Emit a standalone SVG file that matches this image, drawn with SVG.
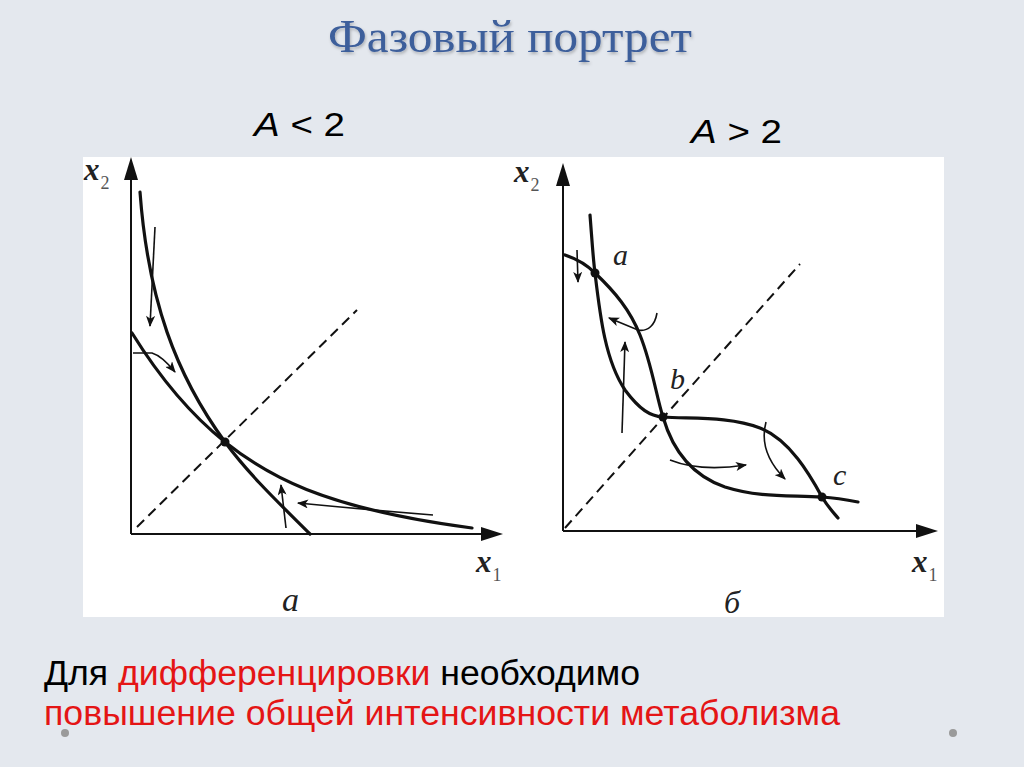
<svg xmlns="http://www.w3.org/2000/svg" width="1024" height="767" viewBox="0 0 1024 767">
<defs>
<style>
.axis{stroke:#111;stroke-width:2;fill:none}
.curve{stroke:#111;stroke-width:3.2;fill:none;stroke-linecap:round}
.dash{stroke:#111;stroke-width:2;fill:none;stroke-dasharray:10 6}
.traj{stroke:#111;stroke-width:1.6;fill:none;marker-end:url(#ah)}
.head{fill:#111}
.lbl{font-family:"Liberation Serif",serif;font-style:italic;fill:#222}
.xl{font-family:"Liberation Serif",serif;font-style:italic;font-weight:bold;fill:#222;font-size:31px}
.sub{font-family:"Liberation Serif",serif;font-style:normal;font-weight:normal;fill:#555;font-size:18px}
.cond{font-family:"Liberation Sans",Arial,sans-serif;font-size:33px;fill:#000}
.body{font-family:"Liberation Sans",Arial,sans-serif;font-size:35px}
.red{fill:#e41515}
.blk{fill:#000}
</style>
<marker id="ah" viewBox="0 0 10 8" refX="9" refY="4" markerWidth="12" markerHeight="9" markerUnits="userSpaceOnUse" orient="auto">
<path d="M0,0 L10,4 L0,8 L2.5,4 Z" fill="#111"/>
</marker>
<filter id="sh" x="-10%" y="-20%" width="120%" height="150%">
<feDropShadow dx="1" dy="2" stdDeviation="1.5" flood-color="#000" flood-opacity="0.25"/>
</filter>
</defs>
<rect x="0" y="0" width="1024" height="767" fill="#e4e8ee"/>
<text id="title" x="328" y="52" textLength="364" lengthAdjust="spacingAndGlyphs" font-family="'Liberation Serif',serif" font-size="46" fill="#3d5e9b" filter="url(#sh)">Фазовый портрет</text>
<text id="cond1" class="cond" x="254" y="136" textLength="91" lengthAdjust="spacingAndGlyphs"><tspan font-style="italic">A</tspan> &lt; 2</text>
<text id="cond2" class="cond" x="691" y="143" textLength="91" lengthAdjust="spacingAndGlyphs"><tspan font-style="italic">A</tspan> &gt; 2</text>
<rect id="panel" x="83" y="157" width="861" height="460" fill="#fff"/>

<g id="graph-a">
<g id="axes-a">
<line class="axis" x1="131" y1="534" x2="131" y2="176"/>
<polygon class="head" points="131,157 124,180 138,180"/>
<line class="axis" x1="131" y1="534" x2="484" y2="534"/>
<polygon class="head" points="503,534 481,527 481,541"/>
<text class="xl" x="84" y="180">x<tspan class="sub" dx="1" dy="9">2</tspan></text>
<text class="xl" x="476" y="572">x<tspan class="sub" dx="1" dy="9">1</tspan></text>
<text class="lbl" x="282" y="611" font-size="34">a</text>
</g>
<g id="curves-a">
<line class="dash" x1="137" y1="527" x2="357" y2="310"/>
<path class="curve" d="M140,192 C148,300 176,375 225,442 C250,476 282,506 310,534"/>
<path class="curve" d="M132,333 C155,370 185,410 225,442 C265,474 320,508 472,528"/>
<circle cx="225" cy="442" r="4.5" fill="#111"/>
</g>
<g id="traj-a">
<path class="traj" d="M155,227 L150,326"/>
<path class="traj" d="M133,353 L152,353 Q162,356 175,372"/>
<path class="traj" d="M433,515 Q370,510 298,503"/>
<path class="traj" d="M286,528 L281,485"/>
</g>
</g>

<g id="graph-b">
<g id="axes-b">
<line class="axis" x1="563" y1="531" x2="563" y2="183"/>
<polygon class="head" points="563,163 556,186 570,186"/>
<line class="axis" x1="563" y1="531" x2="918" y2="531"/>
<polygon class="head" points="938,531 916,524 916,538"/>
<text class="xl" x="514" y="182">x<tspan class="sub" dx="1" dy="9">2</tspan></text>
<text class="xl" x="912" y="572">x<tspan class="sub" dx="1" dy="9">1</tspan></text>
<text class="lbl" x="724" y="613" font-size="32">б</text>
<text class="lbl" x="613" y="265" font-size="30">a</text>
<text class="lbl" x="670" y="389" font-size="30">b</text>
<text class="lbl" x="833" y="485" font-size="30">c</text>
</g>
<g id="curves-b">
<line class="dash" x1="565" y1="528" x2="800" y2="264"/>
<path class="curve" d="M565,255 C580,260 588,266 595,273 C615,292 630,310 640,335 C652,365 656,395 663,417 C672,448 690,475 725,487 C760,498 790,495 822,497 C838,498 848,500 858,502"/>
<path class="curve" d="M590,215 C592,240 593,258 595,273 C600,315 605,360 625,390 C640,410 650,416 663,417 C690,419 730,416 760,428 C790,440 810,475 822,497 C828,507 833,512 838,518"/>
<circle cx="595" cy="273" r="4.5" fill="#111"/>
<circle cx="663" cy="417" r="4.5" fill="#111"/>
<circle cx="822" cy="497" r="4.5" fill="#111"/>
</g>
<g id="traj-b">
<path class="traj" d="M577,250 L578,282"/>
<path class="traj" d="M657,313 C655,325 648,332 638,330 L609,318"/>
<path class="traj" d="M622,433 C623,400 624,370 625,342"/>
<path class="traj" d="M670,460 Q700,472 746,465"/>
<path class="traj" d="M766,422 Q758,452 785,479"/>
</g>
</g>

<g id="caption">
<text class="body" x="44" y="685" textLength="596" lengthAdjust="spacingAndGlyphs"><tspan class="blk">Для </tspan><tspan class="red">дифференцировки</tspan><tspan class="blk"> необходимо</tspan></text>
<text class="body red" x="44" y="725" textLength="796" lengthAdjust="spacingAndGlyphs">повышение общей интенсивности метаболизма</text>
</g>
<circle cx="65" cy="733" r="4" fill="#9a9a9a"/>
<circle cx="953" cy="733" r="4" fill="#9a9a9a"/>
</svg>
